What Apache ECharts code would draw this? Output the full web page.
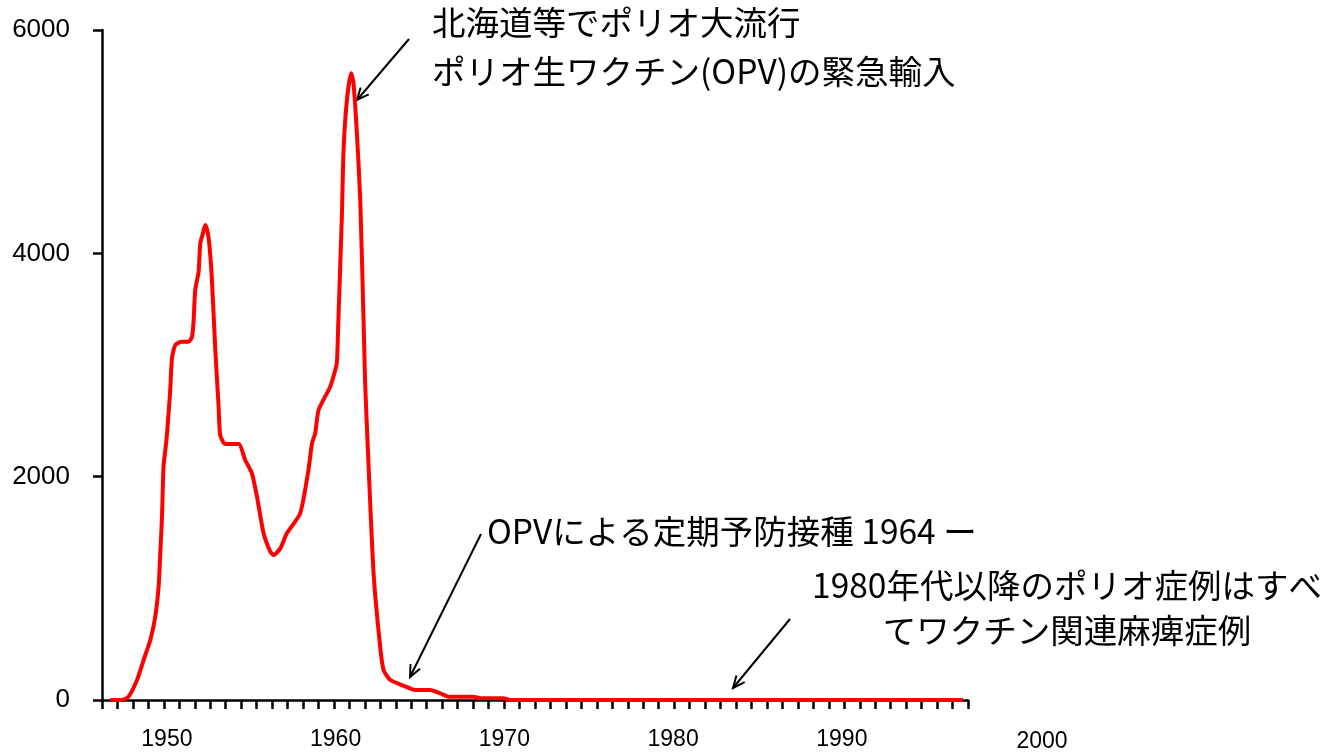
<!DOCTYPE html>
<html><head><meta charset="utf-8">
<script src="https://cdn.jsdelivr.net/npm/echarts@6/dist/echarts.min.js"></script>
<style>html,body{margin:0;padding:0;background:#fff}#c{width:1340px;height:753px}</style>
</head><body><div id="c"></div>
<script>
// ---- data ----
const years = [1946.65,1947.34,1947.73,1948.23,1948.62,1949.02,1949.31,1949.51,1949.61,1949.71,1949.80,1949.91,1950.01,1950.20,1950.30,1950.50,1950.89,1951.29,1951.49,1951.58,1951.68,1951.88,1951.98,1952.14,1952.27,1952.41,1952.53,1952.67,1952.87,1953.06,1953.16,1953.46,1954.25,1954.64,1955.04,1955.34,1955.73,1956.13,1956.32,1956.72,1957.11,1957.90,1958.39,1958.60,1958.79,1958.99,1959.68,1959.98,1960.08,1960.17,1960.37,1960.47,1960.67,1960.92,1961.06,1961.26,1961.46,1961.65,1961.75,1961.90,1962.25,1962.64,1962.84,1963.24,1963.93,1964.72,1965.60,1966.20,1966.69,1968.17,1968.57,1969.95,1970.34,1997.18];
const cases = [0,0,30,179,358,537,746,1015,1316,1641,2089,2239,2388,2776,3060,3179,3209,3209,3253,3388,3672,3835,4090,4179,4254,4194,4059,3761,3134,2642,2373,2292,2292,2149,2030,1821,1493,1328,1298,1358,1493,1672,2060,2299,2388,2597,2806,2955,3030,3432,4328,4925,5373,5612,5523,5075,4478,3432,2836,2284,1135,477,269,179,134,90,90,60,30,30,15,15,0,0];
const yearLabels = [1950,1960,1970,1980,1990];
const lateYearLabel = '2000';
const yMin = 0, yMax = 6000, yStep = 2000;
const xMin = 1946.155, xMax = 1997.476, tickCount = 56;
const note1 = ['北海道等でポリオ大流行','ポリオ生ワクチン(OPV)の緊急輸入'];
const note2 = 'OPVによる定期予防接種 1964 ー';
const note3 = ['1980年代以降のポリオ症例はすべ','てワクチン関連麻痺症例'];

const tickVals = [];
for (let k = 0; k <= tickCount; k++) tickVals.push(xMin + k * (xMax - xMin) / tickCount);

const JP = '"Noto Sans CJK JP", sans-serif';
const NUM = '"Liberation Sans", Arial, sans-serif';
function arrow(x1, y1, x2, y2) {
  const a = Math.atan2(y2 - y1, x2 - x1), L = 13, s = 0.42;
  const p1 = [x2 - L * Math.cos(a - s), y2 - L * Math.sin(a - s)];
  const p2 = [x2 - L * Math.cos(a + s), y2 - L * Math.sin(a + s)];
  return [
    {type:'line', shape:{x1, y1, x2, y2}, style:{stroke:'#000', lineWidth:2}},
    {type:'polyline', shape:{points:[p1,[x2,y2],p2]}, style:{stroke:'#000', lineWidth:2, fill:null}}
  ];
}
function txt(t, x, y, align) {
  return {type:'text', style:{text:t, x, y, font:'33.5px ' + JP, fill:'#000', textAlign:align || 'left', textVerticalAlign:'middle'}};
}

const chart = echarts.init(document.getElementById('c'), null, {renderer:'canvas'});
chart.setOption({
  animation:false,
  backgroundColor:'#fff',
  grid:{left:102, right:372, top:30, bottom:53, containLabel:false, outerBoundsMode:'none'},
  xAxis:{
    type:'value', min:xMin, max:xMax,
    axisLine:{lineStyle:{color:'#000', width:2.5}},
    axisTick:{show:true, length:9, lineStyle:{color:'#000', width:2.5}, customValues:tickVals},
    axisLabel:{customValues:yearLabels, margin:28, color:'#000', fontSize:23, fontFamily:NUM, formatter:v => String(Math.round(v))},
    splitLine:{show:false}
  },
  yAxis:{
    type:'value', min:yMin, max:yMax, interval:yStep,
    axisLine:{show:true, lineStyle:{color:'#000', width:2.5}},
    axisTick:{show:true, length:9, lineStyle:{color:'#000', width:2.5}},
    axisLabel:{margin:32, color:'#000', fontSize:26, fontFamily:NUM, formatter:v => String(v)},
    splitLine:{show:false}
  },
  series:[{
    type:'line', data:years.map((y, i) => [y, cases[i]]),
    showSymbol:false, smooth:0.2,
    lineStyle:{color:'#ff0000', width:4}, z:5
  }],
  graphic:[
    ...arrow(409, 39, 357, 100),
    ...arrow(481, 534, 410, 677),
    ...arrow(790, 619, 733, 688),
    txt(note1[0], 432, 22),
    txt(note1[1], 432, 71),
    txt(note2, 487, 531),
    txt(note3[0], 1067, 585, 'center'),
    txt(note3[1], 1067, 630, 'center'),
    {type:'text', style:{text:lateYearLabel, x:1042, y:742, font:'23px ' + NUM, fill:'#000', textAlign:'center', textVerticalAlign:'middle'}}
  ]
});
</script></body></html>
